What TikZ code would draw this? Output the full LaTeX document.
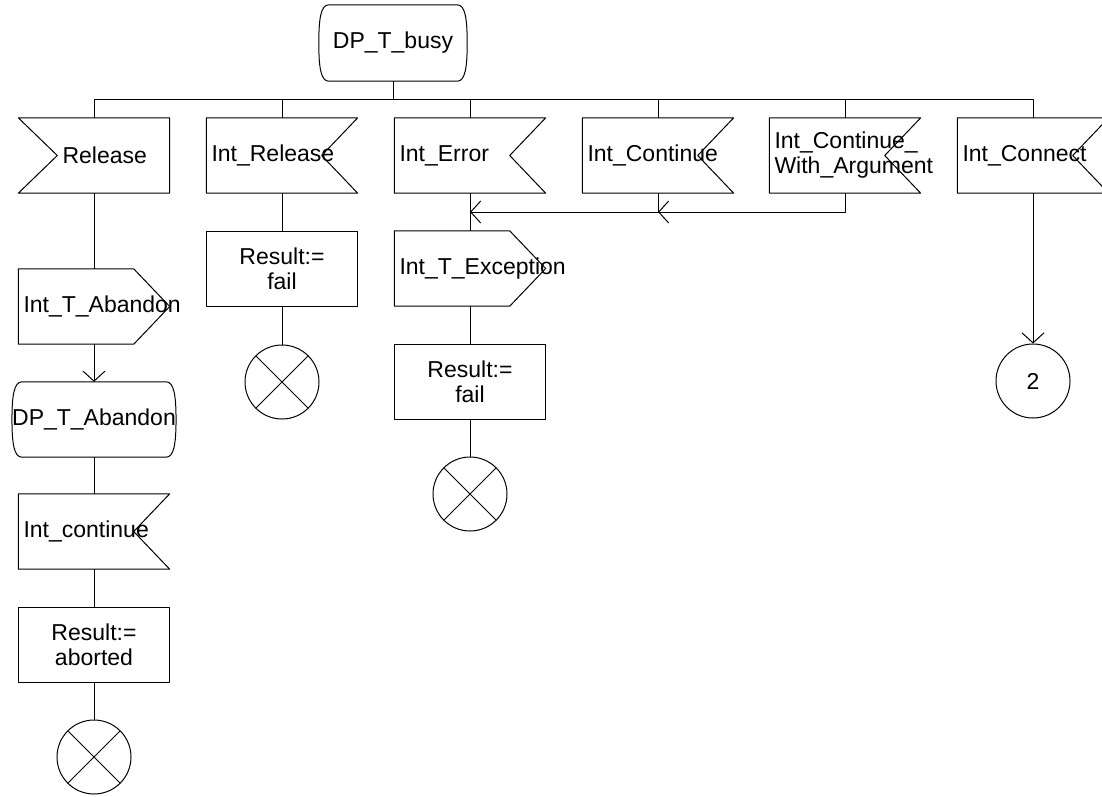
\documentclass[tikz,border=0pt]{standalone}
\usepackage{fontspec}
\setmainfont{Liberation Sans}
\usetikzlibrary{arrows.meta}
\newcommand\inRshape[1]{\draw[ln] (#1.north east) -- (#1.north west) -- (#1.south west) -- (#1.south east) -- ([xshift=-36pt]#1.east) -- cycle;}
\newcommand\inLshape[1]{\draw[ln] (#1.north west) -- (#1.north east) -- (#1.south east) -- (#1.south west) -- ([xshift=39pt]#1.west) -- cycle;}
\newcommand\outRshape[1]{\draw[ln] (#1.north west) -- ([xshift=-36pt]#1.north east) -- (#1.east) -- ([xshift=-36pt]#1.south east) -- (#1.south west) -- cycle;}
\newcommand\stateshape[1]{\draw[ln] ([xshift=10pt]#1.north west) -- ([xshift=-10pt]#1.north east)
  .. controls ([xshift=-2pt]#1.north east) and ([yshift=-14pt]#1.north east) .. (#1.east)
  .. controls ([yshift=14pt]#1.south east) and ([xshift=-2pt]#1.south east) .. ([xshift=-10pt]#1.south east)
  -- ([xshift=10pt]#1.south west)
  .. controls ([xshift=2pt]#1.south west) and ([yshift=14pt]#1.south west) .. (#1.west)
  .. controls ([yshift=-14pt]#1.north west) and ([xshift=2pt]#1.north west) .. ([xshift=10pt]#1.north west) -- cycle;}
\begin{document}
\begin{tikzpicture}[x=1pt,y=-1pt,
  font=\fontsize{23pt}{25pt}\selectfont,
  line join=round,
  ln/.style={line width=1pt},
  arr/.style={-{Straight Barb[length=10pt,width=22pt]}},
  sig/.style={rectangle, minimum width=151pt, minimum height=75pt, text width=141pt, inner xsep=5pt, inner ysep=0pt, align=left},
  taskbox/.style={rectangle, draw, ln, minimum width=151pt, minimum height=75pt, inner sep=0pt, align=center},
  statebox/.style={rectangle, minimum width=149pt, minimum height=75pt, inner sep=0pt, align=center},
  stopn/.style={circle, draw, ln, minimum size=74pt, inner sep=0pt,
    path picture={\draw[ln] (path picture bounding box.north west) -- (path picture bounding box.south east)
      (path picture bounding box.south west) -- (path picture bounding box.north east);}},
  connc/.style={circle, draw, ln, minimum size=74pt, inner sep=0pt}]
\useasboundingbox (0,0) rectangle (1102,796);
\clip (0,0) rectangle (1102,796);

% state at top
\node[statebox, minimum width=148pt, minimum height=76pt] (busy) at (393,43) {DP\_T\_busy};

% first row of inputs
\node[sig] (rel)   at (94,155.5)   {\hspace*{39pt}Release};
\node[sig] (irel)  at (282,155.5)  {Int\_Release};
\node[sig] (ierr)  at (470,155.5)  {Int\_Error};
\node[sig] (icont) at (658,155.5)  {Int\_Continue};
\node[sig] (icwa)  at (845,155.5)  {Int\_Continue\_\\With\_Argument};
\node[sig] (icon)  at (1033,155.5) {Int\_Connect};

% Release column
\node[sig] (itab) at (94,306.5) {Int\_T\_Abandon};
\node[statebox] (dpab) at (94,419.5) {DP\_T\_Abandon};
\node[sig] (icont2) at (94,531.5) {Int\_continue};
\node[taskbox] (res3) at (94,645) {Result:=\\aborted};
\node[stopn] (stop3) at (94,757) {};

% Int_Release column
\node[taskbox] (res1) at (282,268.5) {Result:=\\fail};
\node[stopn] (stop1) at (282,382) {};

% Int_Error column
\node[sig] (iexc) at (470,268.5) {Int\_T\_Exception};
\node[taskbox] (res2) at (470,381.5) {Result:=\\fail};
\node[stopn] (stop2) at (470,494) {};

% Int_Connect column
\node[connc] (con2) at (1033,381) {2};

% outlines
\stateshape{busy}
\stateshape{dpab}
\inLshape{rel}
\inRshape{irel}
\inRshape{ierr}
\inRshape{icont}
\inRshape{icwa}
\inRshape{icon}
\inRshape{icont2}
\outRshape{itab}
\outRshape{iexc}

% connectors
\coordinate (bus) at (393,99);
\draw[ln] (busy.south) -- (bus);
\foreach \n in {rel,irel,ierr,icont,icwa,icon} \draw[ln] (bus) -| (\n.north);

\draw[ln] (rel.south) -- (itab.north);
\draw[ln,arr] (itab.south) -- (dpab.north);
\draw[ln] (dpab.south) -- (icont2.north);
\draw[ln] (icont2.south) -- (res3.north);
\draw[ln] (res3.south) -- (stop3.north);

\draw[ln] (irel.south) -- (res1.north);
\draw[ln] (res1.south) -- (stop1.north);

\coordinate (j2) at (470,212);
\coordinate (j1) at (658,212);
\draw[ln] (ierr.south) -- (iexc.north);
\draw[ln,arr] (icont.south) |- (j2);
\draw[ln,arr] (icwa.south) |- (j1);
\draw[ln] (iexc.south) -- (res2.north);
\draw[ln] (res2.south) -- (stop2.north);

\draw[ln,arr] (icon.south) -- (con2.north);
\end{tikzpicture}
\end{document}
